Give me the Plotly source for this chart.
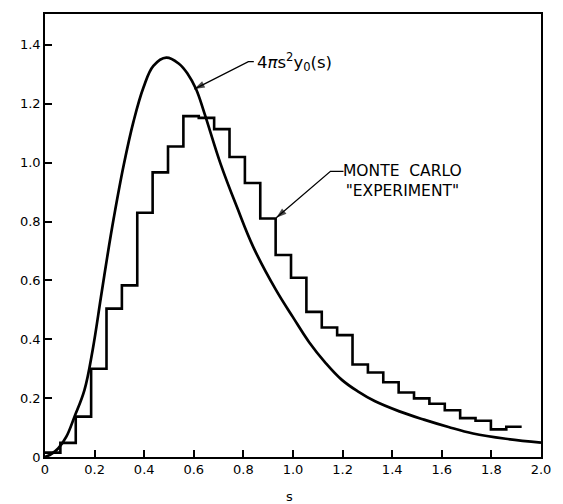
import plotly.graph_objects as go

# ---- data ----
# theoretical curve 4*pi*s^2*y0(s)
curve_s = [0.0, 0.025, 0.053, 0.086, 0.119, 0.159, 0.192, 0.225, 0.251, 0.278,
           0.317, 0.357, 0.397, 0.437, 0.489, 0.540, 0.575, 0.609, 0.642, 0.708,
           0.774, 0.840, 0.933, 0.999, 1.065, 1.131, 1.197, 1.263, 1.329, 1.429,
           1.528, 1.627, 1.726, 1.858, 2.0]
curve_v = [0.0, 0.010, 0.029, 0.069, 0.137, 0.227, 0.363, 0.540, 0.680, 0.815,
           0.990, 1.140, 1.255, 1.329, 1.357, 1.336, 1.302, 1.250, 1.170, 0.996,
           0.849, 0.713, 0.565, 0.476, 0.390, 0.320, 0.262, 0.222, 0.190, 0.155,
           0.127, 0.102, 0.080, 0.062, 0.049]

# Monte Carlo "experiment" histogram
bin_width = 0.062
counts = [0.015, 0.048, 0.137, 0.300, 0.504, 0.583, 0.830, 0.967, 1.055, 1.158,
          1.152, 1.114, 1.019, 0.931, 0.810, 0.686, 0.609, 0.493, 0.440, 0.414,
          0.314, 0.287, 0.254, 0.219, 0.199, 0.181, 0.159, 0.132, 0.123, 0.094,
          0.103]

x_tickvals = [0, 0.2, 0.4, 0.6, 0.8, 1.0, 1.2, 1.4, 1.6, 1.8, 2.0]
x_ticktext = ["0", "0.2", "0.4", "0.6", "0.8", "1.0", "1.2", "1.4", "1.6", "1.8", "2.0"]
y_tickvals = [0, 0.2, 0.4, 0.6, 0.8, 1.0, 1.2, 1.4]
y_ticktext = ["0", "0.2", "0.4", "0.6", "0.8", "1.0", "1.2", "1.4"]

# label leader lines: (text-side end, bend, arrow tip)
curve_label_leader_s = [0.842, 0.820, 0.602]
curve_label_leader_v = [1.343, 1.343, 1.250]
mc_label_leader_s = [1.2036, 1.151, 0.9325]
mc_label_leader_v = [0.9705, 0.9705, 0.8125]

# ---- figure ----
edges = [i * bin_width for i in range(len(counts) + 1)]
hist_x = edges[:-1] + [edges[-1]]
hist_y = counts + [counts[-1]]

FONT = "DejaVu Sans"

fig = go.Figure()
fig.add_trace(go.Scatter(x=curve_s, y=curve_v, mode="lines",
                         line=dict(color="black", width=2.7, shape="spline", smoothing=1.1),
                         showlegend=False, hoverinfo="skip"))
fig.add_trace(go.Scatter(x=hist_x, y=hist_y, mode="lines",
                         line=dict(color="black", width=2.6, shape="hv"),
                         showlegend=False, hoverinfo="skip"))

for ls, lv in [(curve_label_leader_s, curve_label_leader_v),
               (mc_label_leader_s, mc_label_leader_v)]:
    fig.add_trace(go.Scatter(x=ls, y=lv, mode="lines+markers",
                             line=dict(color="black", width=1.3),
                             marker=dict(symbol=["circle", "circle", "arrow"],
                                         size=[0, 0, 11], angleref="previous",
                                         color="black", line=dict(width=0)),
                             showlegend=False, hoverinfo="skip"))

fig.add_annotation(x=0.845, y=1.343, xref="x", yref="y", xanchor="left", yanchor="middle",
                   text="4<i>π</i>s<sup>2</sup>y<sub>0</sub>(s)", showarrow=False,
                   font=dict(family=FONT, size=16.5, color="black"))

fig.add_annotation(x=1.440, y=0.937, xref="x", yref="y", xanchor="center", yanchor="middle",
                   text="MONTE  CARLO<br>\"EXPERIMENT\"", showarrow=False, align="center",
                   font=dict(family=FONT, size=15.5, color="black"))

# x axis title "s"
fig.add_annotation(x=0.492, y=-0.09, xref="paper", yref="paper", text="s",
                   showarrow=False, xanchor="center", yanchor="middle",
                   font=dict(family=FONT, size=13, color="black"))

axis_common = dict(showgrid=False, zeroline=False, showline=True, linecolor="black",
                   linewidth=1.5, mirror=True, ticks="inside", ticklen=7, tickwidth=1.5,
                   tickcolor="black", tickfont=dict(family=FONT, size=13, color="black"))

fig.update_layout(
    width=563, height=504,
    margin=dict(l=45, r=14, t=13, b=47),
    paper_bgcolor="white", plot_bgcolor="white",
    xaxis=dict(range=[0, 2.0], tickvals=x_tickvals, ticktext=x_ticktext, **axis_common),
    yaxis=dict(range=[0, 1.505], tickvals=y_tickvals, ticktext=y_ticktext, **axis_common),
)

fig.write_html("out.html")
